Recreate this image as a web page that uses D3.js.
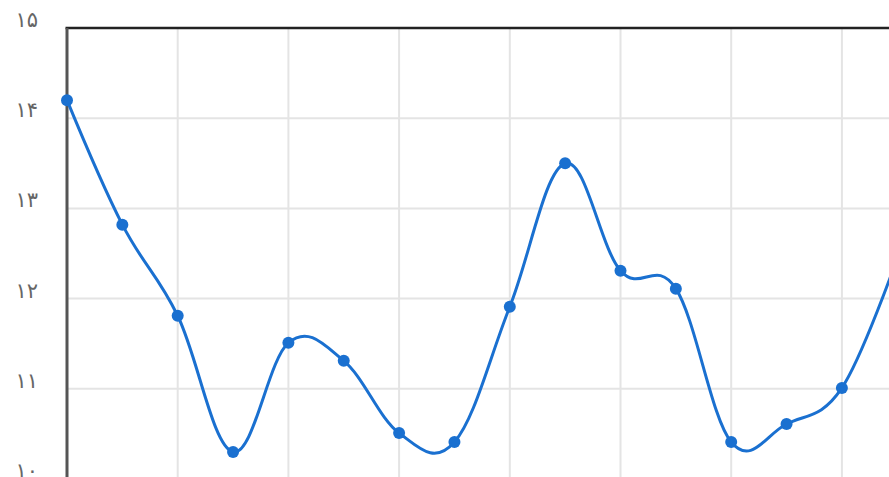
<!DOCTYPE html>
<html>
<head>
<meta charset="utf-8">
<script src="https://d3js.org/d3.v7.min.js"></script>
<style>
  body { margin: 0; background: #fff; }
  .tick-label { font-family: "DejaVu Sans", sans-serif; font-size: 21px; fill: #666; }
</style>
</head>
<body>
<div id="chart"></div>
<script>
// values (the chart is cropped at the right and bottom)
var values = [14.2, 12.82, 11.81, 10.3, 11.51, 11.31, 10.51, 10.41, 11.91, 13.5, 12.31, 12.11, 10.41, 10.61, 11.01, 12.45];
var yTicks = [10, 11, 12, 13, 14, 15];
var yTickLabels = ["۱۰", "۱۱", "۱۲", "۱۳", "۱۴", "۱۵"];

var width = 889, height = 477;

var svg = d3.select("#chart")
  .append("svg")
    .attr("width", width)
    .attr("height", height);

var x = d3.scaleLinear()
  .domain([0, 16])
  .range([67, 67 + 16 * 55.35]);

var y = d3.scaleLinear()
  .domain([10, 15])
  .range([479, 28]);

// grid
var xGrid = d3.range(0, 17, 2);
svg.selectAll(".vgrid")
  .data(xGrid).enter()
  .append("line")
    .attr("x1", function(d) { return x(d); })
    .attr("x2", function(d) { return x(d); })
    .attr("y1", y(15))
    .attr("y2", y(10))
    .style("stroke", "#e4e4e4")
    .style("stroke-width", 2);

svg.selectAll(".hgrid")
  .data(yTicks).enter()
  .append("line")
    .attr("x1", x(0))
    .attr("x2", width)
    .attr("y1", function(d) { return y(d); })
    .attr("y2", function(d) { return y(d); })
    .style("stroke", "#e4e4e4")
    .style("stroke-width", 2);

// tick labels
svg.selectAll(".tick-label")
  .data(yTicks).enter()
  .append("text")
    .attr("class", "tick-label")
    .attr("x", 38)
    .attr("y", function(d) { return y(d) - 1; })
    .attr("text-anchor", "end")
    .text(function(d, i) { return yTickLabels[i]; });

// frame: top border and left axis
svg.append("line")
  .attr("x1", x(0) - 1.5).attr("x2", width)
  .attr("y1", y(15)).attr("y2", y(15))
  .style("stroke", "#222")
  .style("stroke-width", 2.5);

svg.append("line")
  .attr("x1", x(0)).attr("x2", x(0))
  .attr("y1", y(15)).attr("y2", height)
  .style("stroke", "#555")
  .style("stroke-width", 3);

// line
var line = d3.line()
  .x(function(d, i) { return x(i); })
  .y(function(d) { return y(d); })
  .curve(d3.curveCardinal.tension(-0.1));

svg.append("path")
  .datum(values)
  .attr("d", line)
  .style("fill", "none")
  .style("stroke", "#1a70d0")
  .style("stroke-width", 3);

svg.selectAll(".dot")
  .data(values).enter()
  .append("circle")
    .attr("cx", function(d, i) { return x(i); })
    .attr("cy", function(d) { return y(d); })
    .attr("r", 6)
    .style("fill", "#1a70d0");
</script>
</body>
</html>
